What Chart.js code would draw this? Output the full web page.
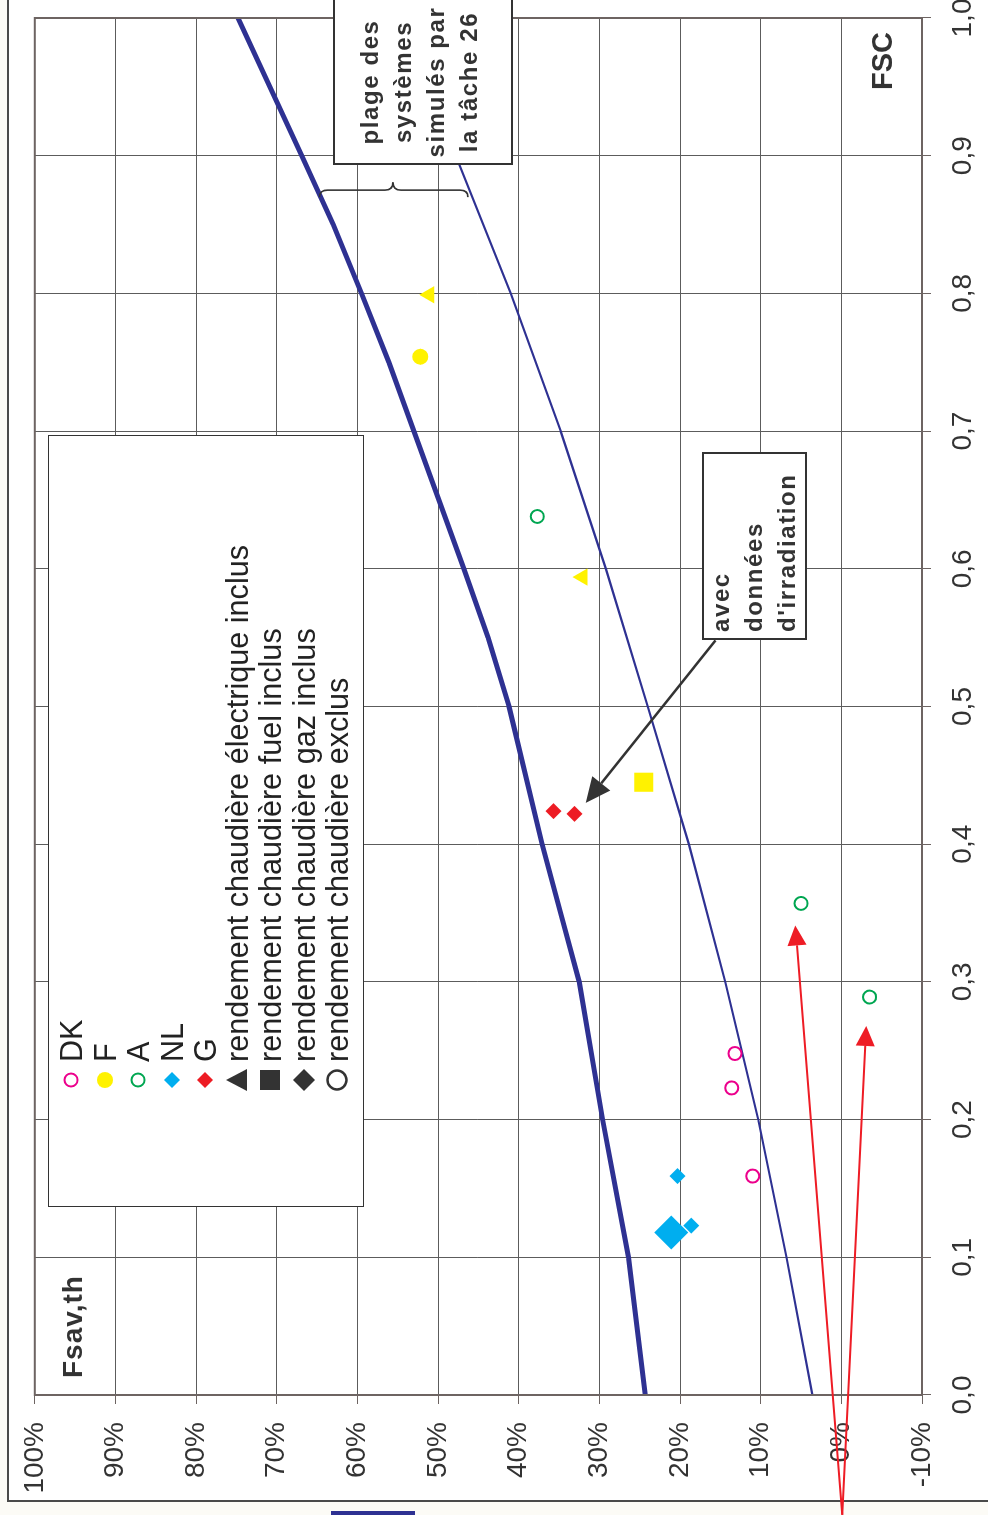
<!doctype html>
<html>
<head>
<meta charset="utf-8">
<title>Fsav,th en fonction de FSC</title>
<script src="https://cdn.jsdelivr.net/npm/chart.js"></script>
<style>
  html, body { margin: 0; padding: 0; }
  body { width: 988px; height: 1515px; overflow: hidden; position: relative; background: #fcfbf6;
         font-family: "Liberation Sans", Arial, sans-serif; }
  /* le graphique est construit à l'horizontale puis tourné d'un quart de tour */
  #feuille { position: absolute; left: 0; top: 0; width: 1515px; height: 988px;
             transform-origin: 0 0; transform: translate(0, 1515px) rotate(-90deg); }
  #cadre { position: absolute; left: 13px; top: 7px; width: 1520px; height: 1000px;
           border: 2px solid #4a4a4a; background: #fff; }
  #graphe { position: absolute; left: 0; top: 0; }
  #trait { position: absolute; left: 0; top: 331px; width: 4px; height: 84px; background: #2e3192; }
  .titre { position: absolute; font-weight: bold; color: #333; white-space: nowrap; }
  #fsc { right: 32px; top: 868px; font-size: 29px; line-height: 29px; }
  #fsav { left: 137px; top: 59px; font-size: 28px; line-height: 28px; letter-spacing: 1px; }
  .boite { position: absolute; background: #fff; border: 2px solid #333; font-weight: bold; color: #333;
           font-size: 24px; line-height: 33px; letter-spacing: 1.6px; white-space: nowrap; box-sizing: border-box; }
  #plage { left: 1350px; top: 333px; width: 170px; height: 180px; text-align: center; padding-top: 18px; padding-right: 4px; }
  #avec { left: 875px; top: 702px; width: 188px; height: 105px; padding-left: 6px; padding-top: 0; }
  #legende { position: absolute; left: 308px; top: 48px; width: 772px; height: 316px; background: #fff;
             border: 1.5px solid #333; box-sizing: border-box; }
  .entree { position: absolute; left: 0; height: 34px; width: 100%; }
  .entree svg { position: absolute; left: 113px; top: 4px; }
  .entree span { position: absolute; left: 144px; top: 0; font-size: 30.6px; line-height: 34px; color: #222; white-space: nowrap; }
</style>
</head>
<body>
<div id="feuille">
  <div id="cadre"></div>
  <div id="trait"></div>
  <canvas id="graphe" width="1515" height="988"></canvas>

  <div id="legende">
    <div class="entree" style="top:5px"><svg width="26" height="26"><circle cx="13" cy="13" r="6.5" fill="#fff" stroke="#ec008c" stroke-width="2"/></svg><span>DK</span></div>
    <div class="entree" style="top:38.5px"><svg width="26" height="26"><circle cx="13" cy="13" r="8" fill="#fff200"/></svg><span>F</span></div>
    <div class="entree" style="top:72px"><svg width="26" height="26"><circle cx="13" cy="13" r="6.5" fill="#fff" stroke="#00a651" stroke-width="2"/></svg><span>A</span></div>
    <div class="entree" style="top:105.5px"><svg width="26" height="26"><polygon points="13,5 21,13 13,21 5,13" fill="#00aeef"/></svg><span>NL</span></div>
    <div class="entree" style="top:139px"><svg width="26" height="26"><polygon points="13,5 21,13 13,21 5,13" fill="#ed1c24"/></svg><span>G</span></div>
    <div class="entree" style="top:170.5px"><svg width="26" height="26"><polygon points="13,2 24,23 2,23" fill="#333"/></svg><span>rendement chaudière électrique inclus</span></div>
    <div class="entree" style="top:204px"><svg width="26" height="26"><rect x="3" y="3" width="20" height="20" fill="#333"/></svg><span>rendement chaudière fuel inclus</span></div>
    <div class="entree" style="top:237.5px"><svg width="26" height="26"><polygon points="13,2 24,13 13,24 2,13" fill="#333"/></svg><span>rendement chaudière gaz inclus</span></div>
    <div class="entree" style="top:271px"><svg width="26" height="26"><circle cx="13" cy="13" r="9.5" fill="none" stroke="#333" stroke-width="2.5"/></svg><span>rendement chaudière exclus</span></div>
  </div>

  <div class="boite" id="plage">plage des<br>systèmes<br>simulés par<br>la tâche 26</div>
  <div class="boite" id="avec">avec<br>données<br>d'irradiation</div>
  <div class="titre" id="fsc">FSC</div>
  <div class="titre" id="fsav">Fsav,th</div>
</div>

<script>
  // courbes
  var fscHaute = [0, 0.1, 0.2, 0.3, 0.35, 0.4, 0.5, 0.55, 0.6, 0.7, 0.75, 0.8, 0.85, 0.9, 1.0];
  var fsavHaute = [24.3, 26.4, 29.6, 32.5, 34.8, 37.1, 41.2, 43.8, 46.8, 53.0, 56.1, 59.5, 63.0, 66.9, 74.8];
  var fscBasse = [0, 0.1, 0.2, 0.3, 0.4, 0.5, 0.6, 0.7, 0.8, 0.9, 1.0];
  var fsavBasse = [3.6, 6.8, 10.3, 14.4, 18.9, 24.0, 29.2, 34.8, 41.0, 47.8, 55.0];

  // points mesurés par pays
  var dkFsc = [0.248, 0.223, 0.159];
  var dkFsav = [13.2, 13.6, 11.0];
  var fRondFsc = [0.754];
  var fRondFsav = [52.2];
  var fTriangleFsc = [0.799, 0.594];
  var fTriangleFsav = [51.1, 32.1];
  var fCarreFsc = [0.445];
  var fCarreFsav = [24.5];
  var aFsc = [0.638, 0.357, 0.289];
  var aFsav = [37.7, 5.0, -3.5];
  var nlFsc = [0.159, 0.123];
  var nlFsav = [20.3, 18.6];
  var nlGrosFsc = [0.118];
  var nlGrosFsav = [21.1];
  var gFsc = [0.424, 0.422];
  var gFsav = [35.7, 33.1];

  // annotations : [fsc départ, fsav départ, fsc pointe, fsav pointe]
  var flechesRouges = [[-0.087, -0.1, 0.341, 5.7], [-0.087, -0.1, 0.268, -3.1]];
  var flecheNoire = [0.548, 15.6, 0.430, 31.7];
  // accolade : [fsc, fsav haut, fsav pointe, fsav bas]
  var accolade = [0.875, 64.7, 55.6, 46.3];

  function nuage(label, xs, ys, style) {
    return Object.assign({ label: label, data: xs.map(function (x, i) { return { x: x, y: ys[i] }; }) }, style);
  }

  function pt(chart, fsc, fsav) {
    return [chart.scales.x.getPixelForValue(fsc), chart.scales.y.getPixelForValue(fsav)];
  }

  function fleche(ctx, p1, p2, couleur, ep, longueur, largeur) {
    var ang = Math.atan2(p2[1] - p1[1], p2[0] - p1[0]);
    var bx = p2[0] - Math.cos(ang) * longueur, by = p2[1] - Math.sin(ang) * longueur;
    ctx.strokeStyle = couleur;
    ctx.fillStyle = couleur;
    ctx.lineWidth = ep;
    ctx.beginPath();
    ctx.moveTo(p1[0], p1[1]);
    ctx.lineTo(bx, by);
    ctx.stroke();
    ctx.beginPath();
    ctx.moveTo(p2[0], p2[1]);
    ctx.lineTo(bx + Math.sin(ang) * largeur / 2, by - Math.cos(ang) * largeur / 2);
    ctx.lineTo(bx - Math.sin(ang) * largeur / 2, by + Math.cos(ang) * largeur / 2);
    ctx.closePath();
    ctx.fill();
  }

  var annotations = {
    id: 'annotations',
    afterDraw: function (chart) {
      var ctx = chart.ctx, a = chart.chartArea;
      ctx.save();
      ctx.strokeStyle = '#6d6462';
      ctx.lineWidth = 2;
      ctx.strokeRect(a.left, a.top, a.right - a.left, a.bottom - a.top);

      flechesRouges.forEach(function (f) {
        fleche(ctx, pt(chart, f[0], f[1]), pt(chart, f[2], f[3]), '#ee1c25', 2, 20, 19);
      });
      fleche(ctx, pt(chart, flecheNoire[0], flecheNoire[1]), pt(chart, flecheNoire[2], flecheNoire[3]), '#333', 2.5, 25, 23);

      var x = chart.scales.x.getPixelForValue(accolade[0]);
      var y1 = chart.scales.y.getPixelForValue(accolade[1]);
      var ym = chart.scales.y.getPixelForValue(accolade[2]);
      var y2 = chart.scales.y.getPixelForValue(accolade[3]);
      ctx.strokeStyle = '#333';
      ctx.lineWidth = 1.6;
      ctx.beginPath();
      ctx.moveTo(x - 7, y1);
      ctx.quadraticCurveTo(x, y1, x, y1 + 8);
      ctx.lineTo(x, ym - 8);
      ctx.quadraticCurveTo(x, ym, x + 8, ym);
      ctx.quadraticCurveTo(x, ym, x, ym + 8);
      ctx.lineTo(x, y2 - 8);
      ctx.quadraticCurveTo(x, y2, x - 7, y2);
      ctx.stroke();
      ctx.restore();
    }
  };

  Chart.defaults.font.family = '"Liberation Sans", Arial, sans-serif';

  var grille = { color: '#5c5c5c', lineWidth: 1, tickLength: 9, tickColor: '#6d6462' };

  var graphe = new Chart(document.getElementById('graphe'), {
    type: 'scatter',
    data: {
      datasets: [
        nuage('DK', dkFsc, dkFsav, { pointStyle: 'circle', pointRadius: 6.5, pointBackgroundColor: '#fff', pointBorderColor: '#ec008c', pointBorderWidth: 2 }),
        nuage('F', fRondFsc, fRondFsav, { pointStyle: 'circle', pointRadius: 8, pointBackgroundColor: '#fff200', pointBorderWidth: 0 }),
        nuage('F électrique', fTriangleFsc, fTriangleFsav, { pointStyle: 'triangle', pointRadius: 10, pointBackgroundColor: '#fff200', pointBorderWidth: 0 }),
        nuage('F fuel', fCarreFsc, fCarreFsav, { pointStyle: 'rect', pointRadius: 13.5, pointBackgroundColor: '#fff200', pointBorderWidth: 0 }),
        nuage('A', aFsc, aFsav, { pointStyle: 'circle', pointRadius: 6.5, pointBackgroundColor: '#fff', pointBorderColor: '#00a651', pointBorderWidth: 2 }),
        nuage('NL', nlFsc, nlFsav, { pointStyle: 'rectRot', pointRadius: 8, pointBackgroundColor: '#00aeef', pointBorderWidth: 0 }),
        nuage('NL gaz', nlGrosFsc, nlGrosFsav, { pointStyle: 'rectRot', pointRadius: 17, pointBackgroundColor: '#00aeef', pointBorderWidth: 0 }),
        nuage('G', gFsc, gFsav, { pointStyle: 'rectRot', pointRadius: 8, pointBackgroundColor: '#ed1c24', pointBorderWidth: 0 }),
        nuage('courbe haute', fscHaute, fsavHaute, { showLine: true, pointRadius: 0, borderColor: '#2e3192', borderWidth: 5 }),
        nuage('courbe basse', fscBasse, fsavBasse, { showLine: true, pointRadius: 0, borderColor: '#2e3192', borderWidth: 2.2 })
      ]
    },
    options: {
      responsive: false,
      animation: false,
      events: [],
      devicePixelRatio: 1,
      layout: { padding: { top: 33, right: 18, left: 0, bottom: 0 } },
      plugins: { legend: { display: false }, tooltip: { enabled: false } },
      scales: {
        x: {
          type: 'linear', min: 0, max: 1,
          ticks: {
            stepSize: 0.1, autoSkip: false, maxRotation: 0, color: '#333', font: { size: 28 }, padding: 15,
            callback: function (v) { return (Math.round(v * 10) / 10).toFixed(1).replace('.', ','); }
          },
          grid: grille,
          border: { color: '#6d6462', width: 2 },
          afterFit: function (s) { s.height = 66; s.paddingLeft = 0; s.paddingRight = 0; }
        },
        y: {
          min: -10, max: 100,
          ticks: {
            stepSize: 10, color: '#333', font: { size: 28 }, padding: 18,
            callback: function (v) { return v + '%'; }
          },
          grid: grille,
          border: { color: '#6d6462', width: 2 },
          afterFit: function (s) { s.width = 120; }
        }
      }
    },
    plugins: [annotations]
  });
</script>
</body>
</html>
